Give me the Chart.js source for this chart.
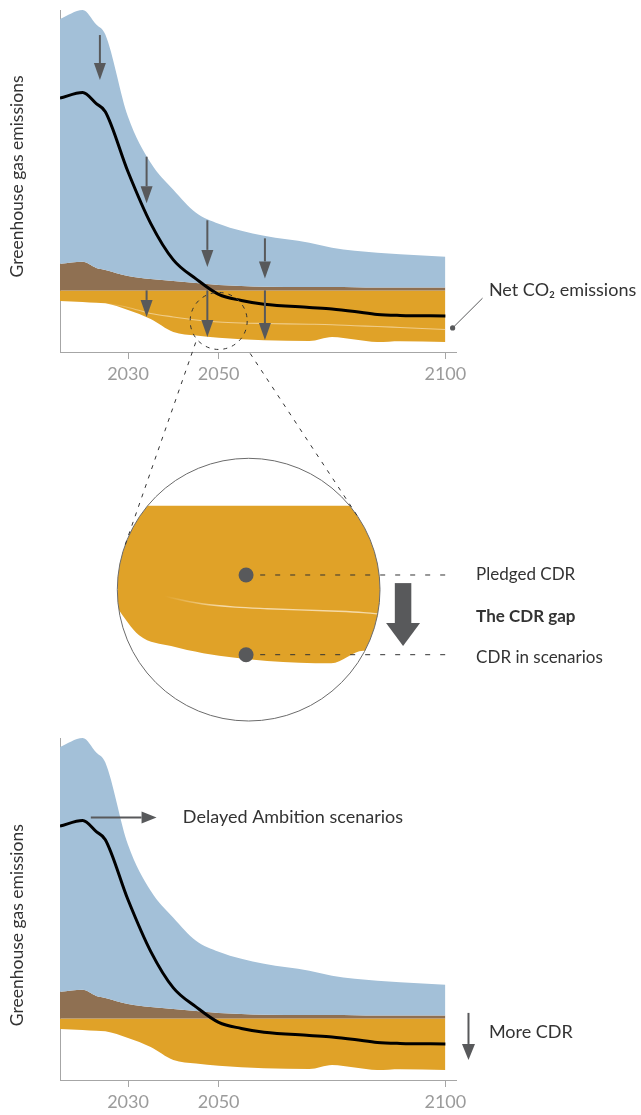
<!DOCTYPE html>
<html>
<head>
<meta charset="utf-8">
<script src="https://cdn.jsdelivr.net/npm/chart.js@4.4.1/dist/chart.umd.min.js"></script>
<style>
  html, body { margin: 0; padding: 0; background: #fff; }
  #wrap { position: relative; width: 641px; height: 1115px; overflow: hidden; }
  canvas { position: absolute; left: 0; }
  #topChart { top: 0; }
  #zoomChart { top: 330px; }
  #bottomChart { top: 728px; }
</style>
</head>
<body>
<div id="wrap">
  <canvas id="topChart" width="641" height="387" style="width:641px;height:387px"></canvas>
  <canvas id="bottomChart" width="641" height="387" style="width:641px;height:387px"></canvas>
  <canvas id="zoomChart" width="641" height="395" style="width:641px;height:395px"></canvas>
</div>
<script>
// schematic emission pathways (arbitrary units)
const years = [2015, 2020, 2023, 2025, 2030, 2035, 2040, 2045, 2050, 2055, 2060, 2070, 2075, 2080, 2085, 2090, 2100];
const grossGhg = [54.2, 56.0, 53.1, 51.1, 34.7, 25.5, 20.1, 15.5, 13.3, 11.9, 10.9, 9.5, 8.5, 7.9, 7.5, 7.2, 6.7];
const nonCo2 = [5.3, 5.7, 4.5, 4.1, 2.9, 2.3, 1.9, 1.5, 1.1, 0.9, 0.75, 0.7, 0.7, 0.65, 0.6, 0.6, 0.6];
const netCo2 = [38.4, 39.5, 37.3, 35.7, 23.7, 13.4, 6.1, 2.3, -0.8, -2.0, -2.75, -3.4, -3.7, -4.2, -4.8, -5.0, -5.1];
const cdrScenarios = [-2.1, -2.3, -2.45, -2.55, -3.9, -5.7, -8.3, -9.0, -9.45, -9.75, -9.95, -10.1, -9.3, -9.8, -10.3, -10.15, -10.3];
const cdrPledged = [null, null, null, -2.55, -3.4, -4.6, -5.3, -5.9, -6.3, -6.5, -6.6, -6.75, -6.85, -7.05, -7.2, -7.4, -7.8];
const tickYears = [2030, 2050, 2100];

// arrows showing the cuts (year, from value, to value)
const cutArrows = [
    { year: 2023.8, from: 51.0, to: 42.0 },
    { year: 2034.1, from: 26.7, to: 17.4 },
    { year: 2047.5, from: 14.0, to: 4.7 },
    { year: 2060.2, from: 10.4, to: 2.4 },
    { year: 2034.1, from: 0, to: -5.3 },
    { year: 2047.5, from: 0, to: -9.3 },
    { year: 2060.2, from: 0, to: -9.9 }
];

const BLUE = '#a3c0d8';
const BROWN = '#8f7052';
const ORANGE = '#e0a228';
const AXIS = '#a6a6a6';
const INK = '#333333';
const ARROW = '#58595b';
const FONT = 'Lato, "Open Sans", sans-serif';
const PLEDGE_FALLBACK = 'rgba(250,232,200,0.6)';

const pts = arr => years.map((yr, i) => ({ x: yr, y: arr[i] }));

function drawArrow(ctx, x1, y1, x2, y2, shaft, headLen, headW, color) {
    const ang = Math.atan2(y2 - y1, x2 - x1);
    const bx = x2 - headLen * Math.cos(ang), by = y2 - headLen * Math.sin(ang);
    ctx.strokeStyle = color;
    ctx.fillStyle = color;
    ctx.lineWidth = shaft;
    ctx.lineCap = 'butt';
    ctx.beginPath();
    ctx.moveTo(x1, y1);
    ctx.lineTo(bx, by);
    ctx.stroke();
    const px = -Math.sin(ang) * headW / 2, py = Math.cos(ang) * headW / 2;
    ctx.beginPath();
    ctx.moveTo(x2, y2);
    ctx.lineTo(bx + px, by + py);
    ctx.lineTo(bx - px, by - py);
    ctx.closePath();
    ctx.fill();
}

// faint pledged line fading in from the left
function fadeIn(fromYear, toYear, alpha) {
    return function (context) {
        const chart = context.chart;
        const x = chart.scales && chart.scales.x;
        if (!chart.chartArea || !x) return PLEDGE_FALLBACK;
        const x0 = x.getPixelForValue(fromYear), x1 = x.getPixelForValue(toYear);
        if (!isFinite(x0) || !isFinite(x1) || x0 === x1) return PLEDGE_FALLBACK;
        const g = chart.ctx.createLinearGradient(x0, 0, x1, 0);
        g.addColorStop(0, 'rgba(250,232,200,0)');
        g.addColorStop(1, 'rgba(250,232,200,' + alpha + ')');
        return g;
    };
}

// rotated axis title, drawn by hand so it sits where the figure has it
function drawYTitle(chart, centerFromTop) {
    const ctx = chart.ctx;
    ctx.save();
    ctx.translate(17, chart.chartArea.top + centerFromTop);
    ctx.rotate(-Math.PI / 2);
    ctx.fillStyle = INK;
    ctx.font = '17.5px ' + FONT;
    ctx.textAlign = 'center';
    ctx.textBaseline = 'middle';
    ctx.fillText('Greenhouse gas emissions', 0, 0);
    ctx.restore();
}

function buildMain(canvasId, withPledged, decor) {
    const datasets = [
        { label: 'Net CO₂ emissions', data: pts(netCo2), borderColor: '#000', borderWidth: 3, fill: false }
    ];
    if (withPledged) {
        datasets.push({ label: 'Pledged CDR', data: pts(cdrPledged), borderColor: fadeIn(2024, 2034, 0.6), borderWidth: 1.1, fill: false });
    }
    datasets.push(
        { label: 'Gross GHG emissions', data: pts(grossGhg), fill: '+1', backgroundColor: BLUE, borderColor: 'rgba(0,0,0,0)', borderWidth: 0 },
        { label: 'Non-CO2', data: pts(nonCo2), fill: 'origin', backgroundColor: BROWN, borderColor: 'rgba(0,0,0,0)', borderWidth: 0 },
        { label: 'CDR in scenarios', data: pts(cdrScenarios), fill: 'origin', backgroundColor: ORANGE, borderColor: 'rgba(0,0,0,0)', borderWidth: 0 }
    );

    return new Chart(document.getElementById(canvasId), {
        type: 'line',
        data: { datasets: datasets },
        options: {
            responsive: false,
            animation: false,
            layout: { padding: { top: 10, right: 184.3, bottom: 0, left: 0 } },
            elements: { point: { radius: 0 }, line: { cubicInterpolationMode: 'monotone' } },
            plugins: { legend: { display: false }, tooltip: { enabled: false } },
            scales: {
                x: {
                    type: 'linear',
                    min: 2015,
                    max: 2102.5,
                    z: 1,
                    afterBuildTicks: s => { s.ticks = tickYears.map(v => ({ value: v })); },
                    afterFit: s => { s.height = 35; },
                    border: { color: AXIS, width: 1 },
                    grid: { drawOnChartArea: false, tickLength: 7, color: AXIS },
                    ticks: { color: '#9b9b9b', font: { family: FONT, size: 18 }, padding: 4, maxRotation: 0, callback: v => String(v) }
                },
                y: {
                    min: -12.3,
                    max: 56,
                    z: 1,
                    afterFit: s => { s.width = 60; },
                    border: { color: AXIS, width: 1 },
                    grid: { display: false },
                    ticks: { display: false }
                }
            }
        },
        plugins: [decor]
    });
}

// magnifying lens on the top chart
const lens = { year: 2050, value: -6.1, radius: 28.5 };

const topDecor = {
    id: 'topDecor',
    afterDatasetsDraw(chart) {
        const { ctx, scales: { x, y } } = chart;
        ctx.save();
        cutArrows.forEach(a => {
            drawArrow(ctx, x.getPixelForValue(a.year), y.getPixelForValue(a.from),
                x.getPixelForValue(a.year), y.getPixelForValue(a.to), 2, 17, 12, ARROW);
        });
        ctx.strokeStyle = INK;
        ctx.lineWidth = 1;
        ctx.setLineDash([4, 5]);
        ctx.beginPath();
        ctx.arc(x.getPixelForValue(lens.year), y.getPixelForValue(lens.value), lens.radius, 0, Math.PI * 2);
        ctx.stroke();
        ctx.setLineDash([]);

        // Net CO2 label with leader
        const dotX = x.getPixelForValue(2101.6), dotY = y.getPixelForValue(-7.5);
        ctx.strokeStyle = ARROW;
        ctx.fillStyle = ARROW;
        ctx.lineWidth = 1;
        ctx.beginPath();
        ctx.moveTo(dotX, dotY);
        ctx.lineTo(x.getPixelForValue(2108.2), y.getPixelForValue(-1.55));
        ctx.stroke();
        ctx.beginPath();
        ctx.arc(dotX, dotY, 2.6, 0, Math.PI * 2);
        ctx.fill();
        ctx.fillStyle = INK;
        ctx.font = '18px ' + FONT;
        ctx.textBaseline = 'middle';
        ctx.textAlign = 'left';
        ctx.fillText('Net CO₂ emissions', x.getPixelForValue(2109.6), y.getPixelForValue(0));
        ctx.restore();
        drawYTitle(chart, 166.5);
    }
};

const bottomDecor = {
    id: 'bottomDecor',
    afterDatasetsDraw(chart) {
        const { ctx, scales: { x, y } } = chart;
        ctx.save();
        drawArrow(ctx, x.getPixelForValue(2021.8), y.getPixelForValue(40.1),
            x.getPixelForValue(2036.3), y.getPixelForValue(40.1), 2, 15, 12, ARROW);
        drawArrow(ctx, x.getPixelForValue(2105.1), y.getPixelForValue(1.1),
            x.getPixelForValue(2105.1), y.getPixelForValue(-8.3), 2, 16, 13, ARROW);
        ctx.fillStyle = INK;
        ctx.font = '18px ' + FONT;
        ctx.textBaseline = 'middle';
        ctx.textAlign = 'left';
        ctx.fillText('Delayed Ambition scenarios', x.getPixelForValue(2042.1), y.getPixelForValue(40.1));
        ctx.fillText('More CDR', x.getPixelForValue(2109.6), y.getPixelForValue(-2.7));
        ctx.restore();
        drawYTitle(chart, 187.2);
    }
};

const topChart = buildMain('topChart', true, topDecor);
const bottomChart = buildMain('bottomChart', false, bottomDecor);

// zoomed view of the CDR gap
const zoomCanvas = document.getElementById('zoomChart');
const topCanvas = document.getElementById('topChart');

const circleClip = {
    id: 'circleClip',
    beforeDatasetsDraw(chart) {
        const a = chart.chartArea, ctx = chart.ctx;
        ctx.save();
        ctx.beginPath();
        ctx.arc((a.left + a.right) / 2, (a.top + a.bottom) / 2, (a.right - a.left) / 2, 0, Math.PI * 2);
        ctx.clip();
    },
    afterDatasetsDraw(chart) {
        chart.ctx.restore();
    }
};

function tangentPoint(sx, sy, cx, cy, r, side) {
    const d = Math.hypot(sx - cx, sy - cy);
    const ang = Math.atan2(sy - cy, sx - cx) + side * Math.acos(r / d);
    return [cx + r * Math.cos(ang), cy + r * Math.sin(ang)];
}

const zoomDecor = {
    id: 'zoomDecor',
    afterDatasetsDraw(chart) {
        const { ctx, scales: { x, y } } = chart;
        const a = chart.chartArea;
        const cx = (a.left + a.right) / 2, cy = (a.top + a.bottom) / 2, r = (a.right - a.left) / 2;
        ctx.save();

        // lens outline
        ctx.strokeStyle = '#6b6b6b';
        ctx.lineWidth = 1;
        ctx.beginPath();
        ctx.arc(cx, cy, r, 0, Math.PI * 2);
        ctx.stroke();

        // dashed tangents from the small lens on the top chart
        const off = zoomCanvas.getBoundingClientRect().top - topCanvas.getBoundingClientRect().top;
        const lx = topChart.scales.x.getPixelForValue(lens.year);
        const ly = topChart.scales.y.getPixelForValue(lens.value) - off;
        const starts = [[lx - 23, ly + 21.5, -1], [lx + 31.5, ly + 32.5, 1]];
        ctx.strokeStyle = INK;
        ctx.setLineDash([4, 6]);
        starts.forEach(s => {
            const t = tangentPoint(s[0], s[1], cx, cy, r, s[2]);
            ctx.beginPath();
            ctx.moveTo(s[0], s[1]);
            ctx.lineTo(t[0], t[1]);
            ctx.stroke();
        });

        // guide lines to labels
        ctx.setLineDash([5, 10]);
        [-4.44, -9.55].forEach(v => {
            ctx.beginPath();
            ctx.moveTo(x.getPixelForValue(2058.9), y.getPixelForValue(v));
            ctx.lineTo(x.getPixelForValue(2088.8), y.getPixelForValue(v));
            ctx.stroke();
        });
        ctx.setLineDash([]);

        ctx.fillStyle = ARROW;
        [-4.44, -9.55].forEach(v => {
            ctx.beginPath();
            ctx.arc(x.getPixelForValue(2056.7), y.getPixelForValue(v), 7.5, 0, Math.PI * 2);
            ctx.fill();
        });

        // the gap arrow
        drawArrow(ctx, x.getPixelForValue(2081.2), y.getPixelForValue(-4.96),
            x.getPixelForValue(2081.2), y.getPixelForValue(-9.0), 16.5, 23, 34, ARROW);

        ctx.fillStyle = INK;
        ctx.textAlign = 'left';
        ctx.textBaseline = 'middle';
        const lx2 = x.getPixelForValue(2092.6);
        ctx.font = '17px ' + FONT;
        ctx.fillText('Pledged CDR', lx2, y.getPixelForValue(-4.44));
        ctx.fillText('CDR in scenarios', lx2, y.getPixelForValue(-9.75));
        ctx.font = 'bold 17px ' + FONT;
        ctx.fillText('The CDR gap', lx2, y.getPixelForValue(-7.12));
        ctx.restore();
    }
};

const zoomChart = new Chart(zoomCanvas, {
    type: 'line',
    data: {
        datasets: [
            { label: 'Pledged CDR', data: pts(cdrPledged), borderColor: fadeIn(2044, 2053, 0.8), borderWidth: 1.4, fill: false },
            { label: 'CDR in scenarios', data: pts(cdrScenarios), fill: 'origin', backgroundColor: ORANGE, borderColor: 'rgba(0,0,0,0)', borderWidth: 0 }
        ]
    },
    options: {
        responsive: false,
        animation: false,
        layout: { padding: { left: 117.3, right: 261, top: 128.3, bottom: 4 } },
        elements: { point: { radius: 0 }, line: { cubicInterpolationMode: 'monotone' } },
        plugins: { legend: { display: false }, tooltip: { enabled: false } },
        scales: {
            x: { type: 'linear', display: false, min: 2036.6, max: 2077.6 },
            y: { display: false, min: -13.8, max: 3.04 }
        }
    },
    plugins: [circleClip, zoomDecor]
});
</script>
</body>
</html>
